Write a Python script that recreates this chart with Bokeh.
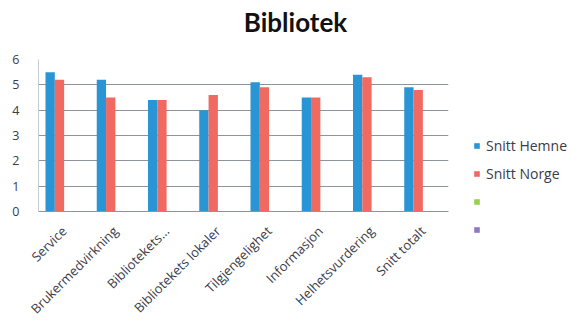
from bokeh.plotting import figure
from bokeh.layouts import row, column
from bokeh.models import (ColumnDataSource, Legend, LegendItem, FixedTicker, Range1d, Label)
from bokeh.transform import dodge
from bokeh.embed import file_html
from bokeh.resources import INLINE
import math

categories = ["Service", "Brukermedvirkning", "Bibliotekets...", "Bibliotekets lokaler",
              "Tilgjengelighet", "Informasjon", "Helhetsvurdering", "Snitt totalt"]
snitt_hemne = [5.5, 5.2, 4.4, 4.0, 5.1, 4.5, 5.4, 4.9]
snitt_norge = [5.2, 4.5, 4.4, 4.6, 4.9, 4.5, 5.3, 4.8]
series_names = ["Snitt Hemne", "Snitt Norge", " ", " "]
y_ticks = [0, 1, 2, 3, 4, 5, 6]
title_text = "Bibliotek"

colors = ["#2a95d5", "#f06a62", "#9bcf4f", "#9178c2"]
FONT = "Open Sans"
TXT = "#3b3b48"

# --- title strip ---
tf = figure(width=568, height=40, output_backend="svg", toolbar_location=None,
            x_axis_type=None, y_axis_type=None, x_range=Range1d(0, 1), y_range=Range1d(0, 1),
            min_border_left=0, min_border_right=0, min_border_top=0, min_border_bottom=0)
tf.outline_line_color = None
tf.xgrid.grid_line_color = None
tf.ygrid.grid_line_color = None
tf.frame_align = False
tf.add_layout(Label(x=295, y=19, x_units="screen", y_units="screen", text=title_text,
                    text_font="Lato", text_font_size="26px", text_font_style="bold",
                    text_color="#111111", text_align="center", text_baseline="alphabetic"))

# --- main chart ---
src = ColumnDataSource(dict(cat=categories, hemne=snitt_hemne, norge=snitt_norge))

p = figure(x_range=categories, y_range=(0, 6), width=458, height=286,
           output_backend="svg", toolbar_location=None,
           min_border_left=38, min_border_right=10, min_border_top=19, min_border_bottom=113)
p.outline_line_color = None
p.background_fill_color = "white"
p.frame_align = False

bw = 1 / 5.5
p.vbar(x=dodge("cat", -1.5 * bw, range=p.x_range), top="hemne", width=bw, source=src,
       fill_color=colors[0], line_color=None)
p.vbar(x=dodge("cat", -0.5 * bw, range=p.x_range), top="norge", width=bw, source=src,
       fill_color=colors[1], line_color=None)

p.yaxis.ticker = FixedTicker(ticks=y_ticks)
p.ygrid.grid_line_color = "#8e949c"
p.ygrid.grid_line_width = 1
p.xgrid.grid_line_color = None

for ax in (p.xaxis[0], p.yaxis[0]):
    ax.major_tick_line_color = None
    ax.minor_tick_line_color = None
    ax.major_label_text_font = FONT
    ax.major_label_text_color = TXT
p.xaxis.major_label_text_font_size = "13px"
p.yaxis.major_label_text_font_size = "12.5px"
p.xaxis.axis_line_color = "#8e949c"
p.yaxis.axis_line_color = "#c8ccd0"
p.yaxis.major_label_standoff = 13
p.xaxis.major_label_standoff = 11
p.xaxis.major_label_orientation = math.pi / 4

# --- legend strip ---
lg = figure(width=110, height=286, output_backend="svg", toolbar_location=None,
            x_axis_type=None, y_axis_type=None, x_range=Range1d(0, 1), y_range=Range1d(0, 1),
            min_border_left=15, min_border_right=0, min_border_top=96, min_border_bottom=0)
lg.outline_line_color = None
lg.xgrid.grid_line_color = None
lg.ygrid.grid_line_color = None
lg.frame_align = False
rs = [lg.vbar(x=[-10], top=[-9], bottom=[-10], width=0.5, fill_color=c, line_color=None)
      for c in colors]

legend = Legend(items=[LegendItem(label=series_names[i], renderers=[r])
                       for i, r in enumerate(rs)],
                location="top_left", glyph_width=7, glyph_height=7, label_height=19,
                spacing=9, padding=0, margin=0, label_standoff=6,
                label_text_font=FONT, label_text_font_size="14px", label_text_color=TXT,
                border_line_color=None, background_fill_alpha=0)
lg.add_layout(legend, "center")

layout = column(tf, row(p, lg, spacing=0), spacing=0)
open("out.html", "w").write(file_html(layout, INLINE))
